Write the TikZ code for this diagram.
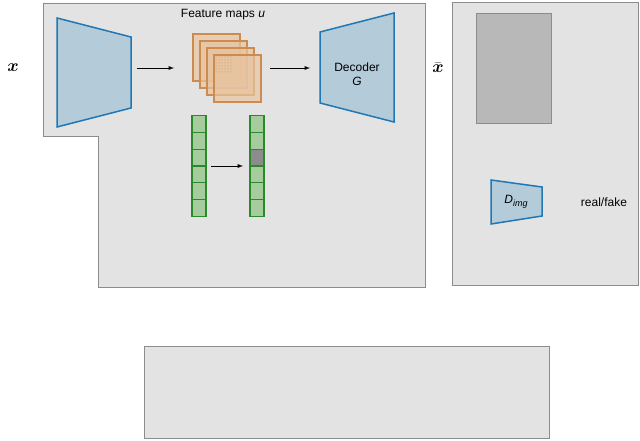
\documentclass[tikz,border=0pt]{standalone}
\usepackage{fontspec}
\setmainfont{Liberation Sans}
\usepackage{amsmath}
\usetikzlibrary{patterns}
\definecolor{netd}{RGB}{31,119,180}
\definecolor{netf}{RGB}{180,203,218}
\definecolor{fmd}{RGB}{204,140,80}
\definecolor{fmf}{RGB}{232,196,160}
\definecolor{gd}{RGB}{40,138,40}
\definecolor{gf}{RGB}{166,204,158}
\begin{document}
\begin{tikzpicture}[x=1pt,y=-1pt,
 panel/.style={draw=black!45,fill=black!11,line width=0.9pt},
 net/.style={draw=netd,fill=netf,line width=1.5pt},
 fm/.style={draw=fmd,fill=fmf,fill opacity=0.7,line width=1.1pt},
 cell/.style={draw=gd,fill=gf,line width=1.1pt,minimum width=14pt,minimum height=16.7pt,inner sep=0pt},
 arr/.style={-latex,line width=0.9pt},
 lab/.style={font=\fontsize{12}{14}\selectfont}]
\useasboundingbox (0,0) rectangle (640,441);
\draw[panel] (43,3)--(425,3)--(425,287)--(98,287)--(98,136)--(43,136)--cycle;
\draw[panel] (452,2) rectangle (638,285);
\draw[panel] (144,346) rectangle (549,438);
\draw[draw=black!45,fill=black!28,line width=0.9pt] (476,13) rectangle (551,123);
\node[font=\fontsize{17}{20}\selectfont] (x) at (13,68) {$\boldsymbol{x}$};
\node[font=\fontsize{17}{20}\selectfont] (xb) at (438,68) {$\bar{\boldsymbol{x}}$};
\draw[net] (57,18)--(131,37)--(131,108)--(57,127)--cycle;
\coordinate (enc) at (131,68);
\draw[net] (320,32)--(394,13)--(394,122)--(320,103)--cycle;
\node[lab,align=center] (dec) at (357,74) {Decoder\\\textit{G}};
\coordinate (decl) at (310,68);
\node[lab] (fmt) at (223,15) {Feature maps \textit{u}};
\foreach \i in {0,1,2,3}{\draw[fm] (193+7*\i,34+7*\i) rectangle ++(47,47);}
\fill[pattern=dots,pattern color=fmd] (214,55) rectangle (233,74);
\coordinate (fml) at (174,68);
\coordinate (fmr) at (270,68);
\draw[arr] (137,68) -- (fml);
\draw[arr] (fmr) -- (decl);
\foreach \i in {0,...,5}{\node[cell] (l\i) at (199,124.3+16.7*\i) {};}
\foreach \i in {0,...,5}{\node[cell] (r\i) at (257,124.3+16.7*\i) {};}
\node[cell,fill=black!45] at (r2) {};
\draw[arr] (211,166) -- (243,166);
\draw[net] (491,180)--(542,187)--(542,216)--(491,224)--cycle;
\node[lab] (dimg) at (516,202) {\textit{D}\raisebox{-2.5pt}{\fontsize{9}{10}\selectfont\textit{img}}};
\node[lab] (rf) at (604,202) {real/fake};
\end{tikzpicture}
\end{document}
